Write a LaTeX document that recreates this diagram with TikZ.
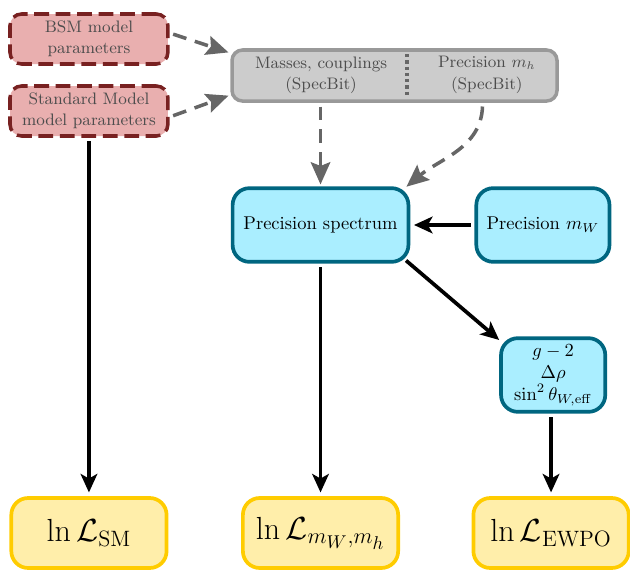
\documentclass[tikz,border=0pt]{standalone}
\usepackage{tikz}
\usetikzlibrary{arrows.meta,positioning}
\definecolor{parfill}{HTML}{E9AFAF}
\definecolor{parline}{HTML}{782121}
\definecolor{specfill}{HTML}{CCCCCC}
\definecolor{specline}{HTML}{999999}
\definecolor{calcfill}{HTML}{AAEEFF}
\definecolor{calcline}{HTML}{006680}
\definecolor{likefill}{HTML}{FFEEAA}
\definecolor{likeline}{HTML}{FFCC00}
\definecolor{greyarrow}{HTML}{666666}
\tikzset{
    parnode/.style={rectangle, rounded corners=0.22cm, draw=parline, fill=parfill, line width=1.9pt, dash pattern=on 8pt off 3.6pt, text=black!70, minimum width=3cm, minimum height=0.95cm, inner sep=0pt, align=center, font=\fontsize{9}{11.5}\selectfont},
    specnode/.style={rectangle, rounded corners=0.2cm, draw=specline, fill=specfill, line width=1.9pt, minimum width=6.175cm, minimum height=0.97cm, inner sep=0pt},
    speclabel/.style={text=black!70, align=center, inner sep=0pt, font=\fontsize{9}{11.5}\selectfont},
    calcnode/.style={rectangle, rounded corners=0.32cm, draw=calcline, fill=calcfill, line width=2pt, minimum height=1.4cm, inner sep=0pt, align=center, text centered},
    likenode/.style={rectangle, rounded corners=0.32cm, draw=likeline, fill=likefill, line width=2pt, minimum width=2.95cm, minimum height=1.33cm, inner sep=0pt, font=\LARGE},
    myarrow/.style={-{Stealth[length=10pt, width=9pt, inset=2.5pt]}, line width=2pt, shorten <=2pt, shorten >=2pt},
    mydasharrow/.style={-{Stealth[length=12pt, width=10.5pt, inset=2pt]}, draw=greyarrow, line width=1.9pt, dash pattern=on 7.5pt off 4.8pt, shorten <=2pt, shorten >=1pt},
}
\begin{document}
\begin{tikzpicture}[node distance=1cm]
\useasboundingbox (0,0) rectangle (11.97,-10.85);

\node[parnode] (bsm) at (1.69,-0.741) {BSM model\\parameters};
\node[parnode] (sm) at (1.69,-2.109) {Standard Model\\model parameters};

\node[specnode] (specbit) at (7.496,-1.435) {};
\node[speclabel] (masses) at (6.1,-1.425) {Masses, couplings\\(SpecBit)};
\node[speclabel] (mh) at (9.25,-1.425) {Precision $m_h$\\(SpecBit)};
\coordinate (divtop) at (7.733,-1.026);
\coordinate (divbot) at (7.733,-1.843);
\draw[greyarrow, line width=1.9pt, dash pattern=on 1.8pt off 1.6pt] (divtop) -- (divbot);

\node[calcnode, minimum width=3.34cm] (spec) at (6.09,-4.275) {Precision spectrum};
\node[calcnode, minimum width=2.53cm, right=1.22cm of spec] (mw) {Precision $m_W$};
\node[calcnode, minimum width=1.98cm] (ewpo) at (10.51,-7.125) {$g-2$\\$\Delta\rho$\\$\sin^2\theta_{W,\mathrm{eff}}$};

\node[likenode] (lsm) at (1.69,-10.127) {$\ln\mathcal{L}_{\mathrm{SM}}$};
\node[likenode] (lmw) at (spec |- lsm) {$\ln\mathcal{L}_{m_W,m_h}$};
\node[likenode, xshift=-0.04cm] (lew) at (ewpo |- lsm) {$\ln\mathcal{L}_{\mathrm{EWPO}}$};

\draw[mydasharrow] ([yshift=0.114cm]bsm.east) -- ([yshift=0.428cm]specbit.west);
\draw[mydasharrow] ([yshift=-0.114cm]sm.east) -- ([yshift=-0.37cm]specbit.west);
\draw[mydasharrow] (specbit.south -| spec.north) -- (spec.north);
\draw[mydasharrow] ([xshift=-0.08cm]specbit.south -| mh.south) to[out=-92, in=40] ([xshift=-0.1cm, yshift=-0.03cm]spec.north east);

\draw[myarrow] (sm.south) -- (lsm.north);
\draw[myarrow] (spec.south) -- (lmw.north);
\draw[myarrow] (mw.west) -- (spec.east);
\draw[myarrow, shorten <=0pt, shorten >=0pt] ([xshift=-0.08cm, yshift=0.06cm]spec.south east) -- ([yshift=-0.07cm]ewpo.north west);
\draw[myarrow] (ewpo.south -| lew.north) -- (lew.north);

\end{tikzpicture}
\end{document}
